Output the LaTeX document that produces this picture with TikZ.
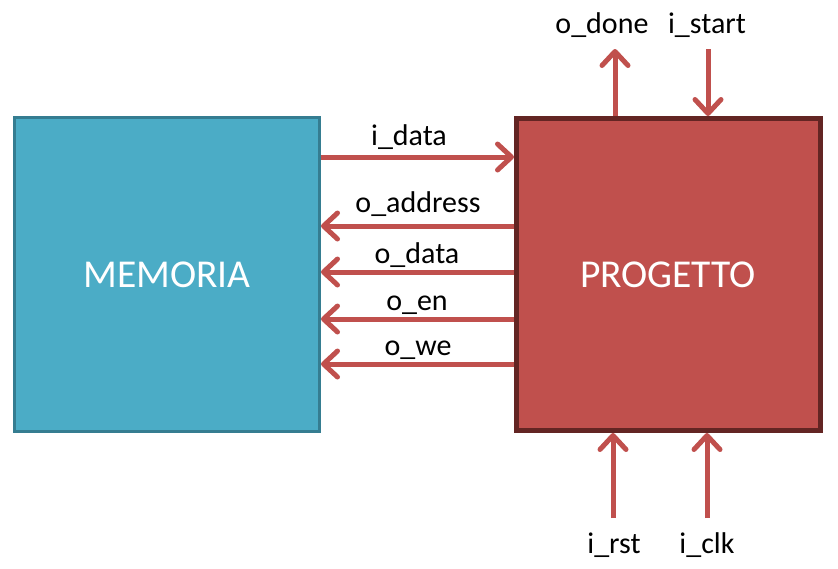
\documentclass[tikz,border=0pt]{standalone}
\usepackage{fontspec}
\setmainfont{Carlito}
\usetikzlibrary{arrows.meta}
\definecolor{tealfill}{HTML}{4BACC6}
\definecolor{tealedge}{HTML}{357D91}
\definecolor{redfill}{HTML}{C0504D}
\definecolor{rededge}{HTML}{632523}
\begin{document}
\begin{tikzpicture}[x=1pt,y=-1pt,
  box/.style={rectangle, inner sep=0pt},
  sig/.style={draw=redfill, line width=5pt, -{Straight Barb[length=14pt,width=26pt,round]}},
  lbl/.style={anchor=base, inner sep=0pt, font=\fontsize{30}{35}\selectfont},
  big/.style={anchor=base, inner sep=0pt, text=white, font=\fontsize{39.5}{46}\selectfont}]
\useasboundingbox (0,0) rectangle (838,568);
\node[box, fill=tealfill, draw=tealedge, line width=3pt, minimum width=305pt, minimum height=314pt] (mem) at (167,274.5) {};
\node[box, fill=redfill, draw=rededge, line width=5pt, minimum width=304pt, minimum height=312pt] (prog) at (668.5,274.5) {};
\node[big] (memt) at (167,287) {MEMORIA};
\node[big] (progt) at (668,287) {PROGETTO};
% horizontal signals
\draw[sig] ([yshift=117.5pt]mem.east) -- ([yshift=117.5pt]prog.west);
\draw[sig] ([yshift=48.5pt]prog.west) -- ([yshift=48.5pt]mem.east);
\draw[sig] ([yshift=2.5pt]prog.west) -- ([yshift=2.5pt]mem.east);
\draw[sig] ([yshift=-44.5pt]prog.west) -- ([yshift=-44.5pt]mem.east);
\draw[sig] ([yshift=-89.5pt]prog.west) -- ([yshift=-89.5pt]mem.east);
\node[lbl] (ldata) at (409,145) {i\_data};
\node[lbl] (laddr) at (418,212) {o\_address};
\node[lbl] (lodata) at (417,263) {o\_data};
\node[lbl] (len) at (417,310) {o\_en};
\node[lbl] (lwe) at (418,355) {o\_we};
% top signals
\coordinate (done) at (615,49);
\coordinate (start) at (708,49);
\draw[sig] ([xshift=-53.5pt]prog.north) -- (done);
\draw[sig] (start) -- ([xshift=39.5pt]prog.north);
\node[lbl] (ldone) at (602,33) {o\_done};
\node[lbl] (lstart) at (707,33) {i\_start};
% bottom signals
\coordinate (rst) at (613,518);
\coordinate (clk) at (707,518);
\draw[sig] (rst) -- ([xshift=-55.5pt]prog.south);
\draw[sig] (clk) -- ([xshift=38.5pt]prog.south);
\node[lbl] (lrst) at (614,553) {i\_rst};
\node[lbl] (lclk) at (707,553) {i\_clk};
\end{tikzpicture}
\end{document}
